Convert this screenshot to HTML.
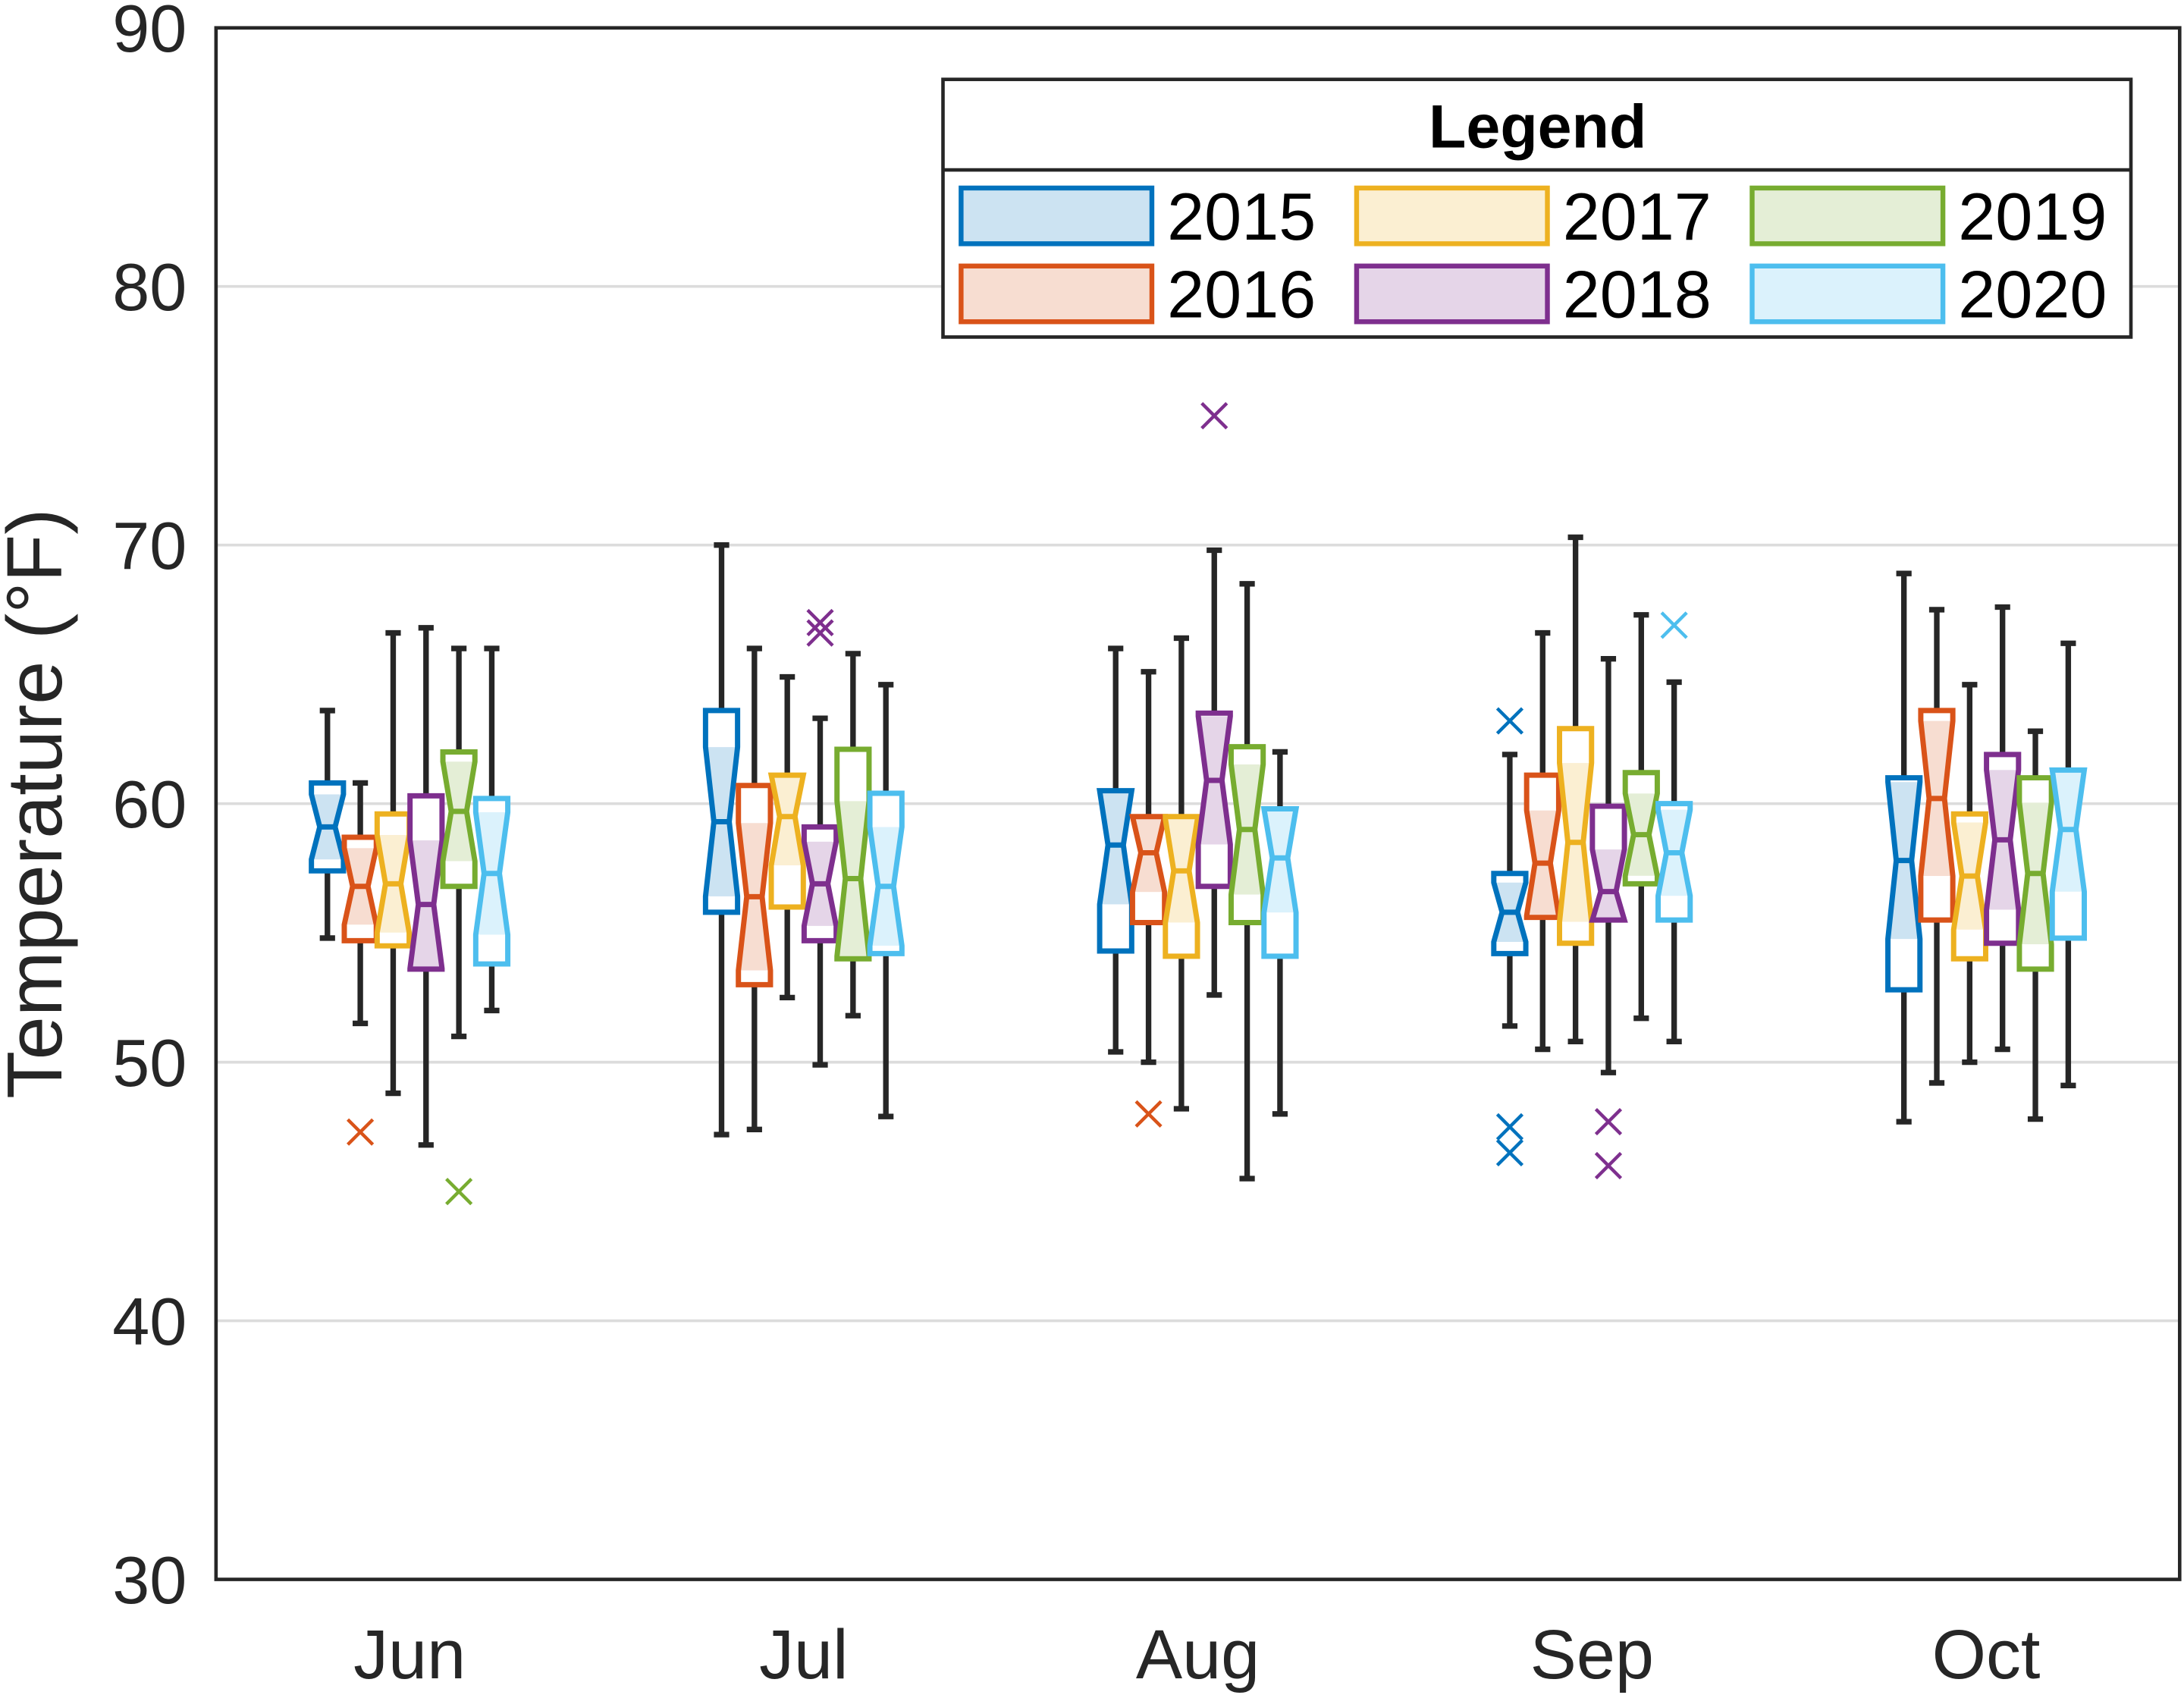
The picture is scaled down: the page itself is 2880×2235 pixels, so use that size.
<!DOCTYPE html>
<html><head><meta charset="utf-8"><style>
html,body{margin:0;padding:0;background:#fff;}
svg{display:block;font-family:"Liberation Sans",sans-serif;}
</style></head><body>
<svg id="chart" width="2880" height="2235" viewBox="0 0 1568 1217" xmlns="http://www.w3.org/2000/svg">
<rect x="0" y="0" width="1568" height="1217" fill="#fff"/>
<g id="grid"></g>
<g id="boxes"></g>
<rect x="155" y="20" width="1410" height="1114" fill="none" stroke="#262626" stroke-width="2.5"/>
<g id="yticks"></g>
<g id="xticks"></g>
<text x="44" y="577" transform="rotate(-90 44 577)" text-anchor="middle" font-size="56" fill="#262626">Temperature (°F)</text>
<g id="legend">
<rect x="677" y="57" width="853" height="185" fill="#fff" stroke="#262626" stroke-width="2.5"/>
<line x1="677" y1="122" x2="1530" y2="122" stroke="#262626" stroke-width="2.5"/>
<text x="1104" y="106" text-anchor="middle" font-size="44" font-weight="bold" fill="#000">Legend</text>
</g>
</svg>
<script>
const months = ["Jun","Jul","Aug","Sep","Oct"];
const years = ["2015","2016","2017","2018","2019","2020"];
const colors = ["#0072BD","#D95319","#EDB120","#7E2F8E","#77AC30","#4DBEEE"];
const yTicks = [30,40,50,60,70,80,90];
const whiskerLo = [[54.8,51.5,48.8,46.8,51.0,52.0],[47.2,47.4,52.5,49.9,51.8,47.9],[50.4,50.0,48.2,52.6,45.5,48.0],[51.4,50.5,50.8,49.6,51.7,50.8],[47.7,49.2,50.0,50.5,47.8,49.1]];
const q1 = [[57.4,54.7,54.5,53.6,56.8,53.8],[55.8,53.0,56.0,54.7,54.0,54.2],[54.3,55.4,54.1,56.8,55.4,54.1],[54.2,55.6,54.6,55.5,56.9,55.5],[52.8,55.5,54.0,54.6,53.6,54.8]];
const medians = [[59.1,56.8,56.9,56.1,59.7,57.3],[59.3,56.4,59.5,56.9,57.1,56.8],[58.4,58.1,57.4,60.9,59.0,57.9],[55.8,57.7,58.5,56.6,58.8,58.1],[57.8,60.2,57.2,58.6,57.3,59.0]];
const q3 = [[60.8,58.7,59.6,60.3,62.0,60.2],[63.6,60.7,61.1,59.1,62.1,60.4],[60.5,59.5,59.5,63.5,62.2,59.8],[57.3,61.1,62.9,59.9,61.2,60.0],[61.0,63.6,59.6,61.9,61.0,61.3]];
const whiskerHi = [[63.6,60.8,66.6,66.8,66.0,66.0],[70.0,66.0,64.9,63.3,65.8,64.6],[66.0,65.1,66.4,69.8,68.5,62.0],[61.9,66.6,70.3,65.6,67.3,64.7],[68.9,67.5,64.6,67.6,62.8,66.2]];
const outlierMonth = [0,0,1,1,2,2,3,3,3,3,3,3];
const outlierYear  = [1,4,3,3,1,3,0,0,0,3,3,5];
const outlierValue = [47.3,45.0,67.0,66.6,48.0,75.0,63.2,47.5,46.5,47.7,46.0,66.9];

const NS="http://www.w3.org/2000/svg";
const X0=155,X1=1565,Y0=20,Y1=1134;
function yScale(v){return Y1-(v-30)/(90-30)*(Y1-Y0);}
function xScale(m,yi){return 294+m*283+(yi-2.5)*23.6;}
function el(tag,attrs,parent){const e=document.createElementNS(NS,tag);for(const k in attrs)e.setAttribute(k,attrs[k]);parent.appendChild(e);return e;}
function light(hex,a){const r=parseInt(hex.slice(1,3),16),g=parseInt(hex.slice(3,5),16),b=parseInt(hex.slice(5,7),16);const f=c=>Math.round(255-(255-c)*a);return `rgb(${f(r)},${f(g)},${f(b)})`;}

const grid=document.getElementById('grid'),yt=document.getElementById('yticks'),xt=document.getElementById('xticks');
yTicks.forEach(t=>{
  if(t>30&&t<90){const l=el('line',{x1:X0,x2:X1,y1:yScale(t),y2:yScale(t),stroke:'#dcdcdc','stroke-width':2},grid);
  
  }
  const tx=el('text',{x:134,y:yScale(t)+17,'text-anchor':'end','font-size':48,fill:'#262626'},yt);
  tx.textContent=t;
  
  
});
months.forEach((m,i)=>{
  const tx=el('text',{x:294+i*283,y:1205,'text-anchor':'middle','font-size':50,fill:'#262626'},xt);
  tx.textContent=m;
  
  
});

const bx=document.getElementById('boxes');
const W=11.5, NW=5.5, CAP=5.5;
months.forEach((m,mi)=>{years.forEach((yr,yi)=>{
  const g=el('g',{},bx);
  
  
  const cx=xScale(mi,yi),c=colors[yi];
  const lo=whiskerLo[mi][yi],a=q1[mi][yi],md=medians[mi][yi],b=q3[mi][yi],hi=whiskerHi[mi][yi];
  const nh=0.37*(b-a);
  const nTop=Math.min(b,md+nh),nBot=Math.max(a,md-nh);
  [[hi,b],[lo,a]].forEach(([w,e])=>{
    el('line',{x1:cx,x2:cx,y1:yScale(w),y2:yScale(e),stroke:'#262626','stroke-width':4},g);
    el('line',{x1:cx-CAP,x2:cx+CAP,y1:yScale(w),y2:yScale(w),stroke:'#262626','stroke-width':4},g);
  });
  const yb=yScale(b),ya=yScale(a),ym=yScale(md),yt2=yScale(nTop),yb2=yScale(nBot);
  const pts=[[cx-W,yb],[cx+W,yb],[cx+W,yt2],[cx+NW,ym],[cx+W,yb2],[cx+W,ya],[cx-W,ya],[cx-W,yb2],[cx-NW,ym],[cx-W,yt2]].map(p=>p.join(',')).join(' ');
  el('polygon',{points:pts,fill:light(c,0.2),stroke:'none'},g);
  if(yt2>yb+0.5) el('rect',{x:cx-W,y:yb,width:2*W,height:yt2-yb,fill:'#fff'},g);
  if(ya>yb2+0.5) el('rect',{x:cx-W,y:yb2,width:2*W,height:ya-yb2,fill:'#fff'},g);
  el('polygon',{points:pts,fill:'none',stroke:c,'stroke-width':3.8,'stroke-linejoin':'miter'},g);
  el('line',{x1:cx-NW,x2:cx+NW,y1:ym,y2:ym,stroke:c,'stroke-width':3.8},g);
});});
outlierValue.forEach((v,i)=>{
  const cx=xScale(outlierMonth[i],outlierYear[i]),cy=yScale(v),s=9,c=colors[outlierYear[i]];
  const p=el('path',{d:`M${cx-s},${cy-s}L${cx+s},${cy+s}M${cx-s},${cy+s}L${cx+s},${cy-s}`,stroke:c,'stroke-width':2.4,fill:'none'},bx);
  
  
});

const lg=document.getElementById('legend');
const colX=[690,974,1258], rowY=[135,191];
years.forEach((yr,i)=>{
  const col=Math.floor(i/2),row=i%2;
  const x=colX[col],y=rowY[row];
  const r=el('rect',{x:x,y:y,width:137,height:40,fill:light(colors[i],0.2),stroke:colors[i],'stroke-width':3.5},lg);
  
  
  const t=el('text',{x:x+148,y:y+37,'font-size':48,fill:'#000'},lg);
  t.textContent=yr;
  
  
});
</script>
</body></html>
